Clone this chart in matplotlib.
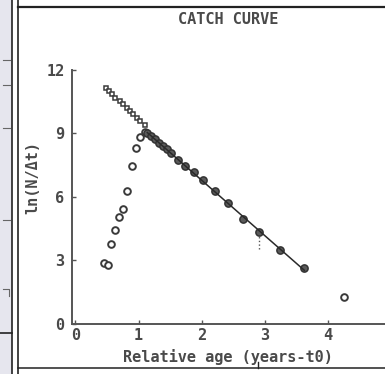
import matplotlib
matplotlib.use('Agg')
import matplotlib.pyplot as plt
import numpy as np
from matplotlib.lines import Line2D
from matplotlib.patches import Rectangle

# rising limb (not used in the fit)
age_open = [0.45, 0.51, 0.57, 0.62, 0.69, 0.76, 0.82, 0.89, 0.96, 1.03, 1.11, 4.26]
ln_open = [2.85, 2.77, 3.77, 4.41, 5.04, 5.44, 6.25, 7.47, 8.32, 8.84, 9.07, 1.27]

# back-extrapolated points
age_sq = [0.48, 0.53, 0.58, 0.63, 0.70, 0.75, 0.81, 0.86, 0.92, 0.97, 1.03, 1.10]
ln_sq = [11.16, 10.99, 10.85, 10.69, 10.53, 10.38, 10.22, 10.06, 9.91, 9.75, 9.59, 9.39]

# points used in the regression
age_fit = [1.14, 1.20, 1.26, 1.32, 1.39, 1.45, 1.51, 1.62, 1.74, 1.88, 2.03,
           2.21, 2.42, 2.65, 2.91, 3.24, 3.63]
ln_fit = [9.00, 8.88, 8.72, 8.56, 8.40, 8.24, 8.06, 7.74, 7.47, 7.19, 6.80,
          6.28, 5.70, 4.95, 4.32, 3.47, 2.64]

xticks = [0, 1, 2, 3, 4]
yticks = [0, 3, 6, 9, 12]

W, H = 385, 374
fig = plt.figure(figsize=(W / 100, H / 100), dpi=100)
fig.patch.set_facecolor('white')

txt = '#4a4a4a'
font = dict(family='DejaVu Sans Mono', weight='bold', size=11, color=txt)

def fx(px):
    return px / W

def fy(py):
    return 1 - py / H

ax = fig.add_axes([fx(71.5), fy(323.5), fx(385 - 71.5), (323.5 - 70) / H])
ax.set_xlim(-0.063, 4.91)
ax.set_ylim(0, 12)

ax.plot(age_open, ln_open, 'o', ms=4.8, mfc='white', mec='#3a3a3a', mew=1.4)
ax.plot(age_sq, ln_sq, 's', ms=3.4, mfc='white', mec='#3a3a3a', mew=1.1)
ax.plot(age_fit, ln_fit, 'o', ms=5.2, mfc='#5a5a5a', mec='#333333', mew=1.1)

# regression line through the fitted points
b, a = np.polyfit(age_fit, ln_fit, 1)
xl = np.array([age_fit[0], age_fit[-1]])
ax.plot(xl, a + b * xl, '-', color='#2a2a2a', lw=1.1)
ax.vlines(age_fit[-3], 3.55, 4.15, colors='#555555', linestyles=':', lw=1)

for s in ['top', 'right']:
    ax.spines[s].set_visible(False)
for s in ['left', 'bottom']:
    ax.spines[s].set_color('#555555')
    ax.spines[s].set_linewidth(1.4)

ax.set_xticks(xticks)
ax.set_yticks(yticks)
ax.set_xticklabels([str(t) for t in xticks], fontdict=font)
ax.set_yticklabels([str(t) for t in yticks], fontdict=font)
ax.tick_params(direction='in', length=3, width=1, color='#555555')
ax.tick_params(axis='y', pad=5)
ax.tick_params(axis='x', pad=3)

fig.text(fx(228), fy(20), 'CATCH CURVE', ha='center', va='center', **font)
fig.text(fx(228), fy(357), 'Relative age (years-t0)', ha='center', va='center', **font)
fig.text(fx(33), fy(177), 'ln(N/\u0394t)', ha='center', va='center', rotation=90, **font)

# panel frame on the left and around the plot
fig.add_artist(Rectangle((0, 0), fx(12), 1, transform=fig.transFigure,
                         facecolor='#e6e6ee', edgecolor='none'))
frame = [
    ([fx(12.5), fx(12.5)], [0, 1], 1.2),
    ([fx(18), fx(18)], [0, 1], 1.2),
    ([fx(18), 1], [fy(7), fy(7)], 1.6),
    ([fx(18), 1], [fy(368), fy(368)], 1.1),
    ([0, fx(12)], [fy(333), fy(333)], 1.2),
    ([fx(258), fx(258)], [fy(362), fy(368)], 1.0),
]
for xs, ys, lw in frame:
    fig.add_artist(Line2D(xs, ys, transform=fig.transFigure, color='#222222', lw=lw))
for py in [60, 85, 128, 220]:
    fig.add_artist(Line2D([fx(3), fx(10)], [fy(py), fy(py)], transform=fig.transFigure,
                          color='#666666', lw=0.8))
fig.add_artist(Line2D([fx(3), fx(9), fx(9)], [fy(289), fy(289), fy(296)],
                      transform=fig.transFigure, color='#666666', lw=0.8))

fig.savefig('out.png', dpi=100)
